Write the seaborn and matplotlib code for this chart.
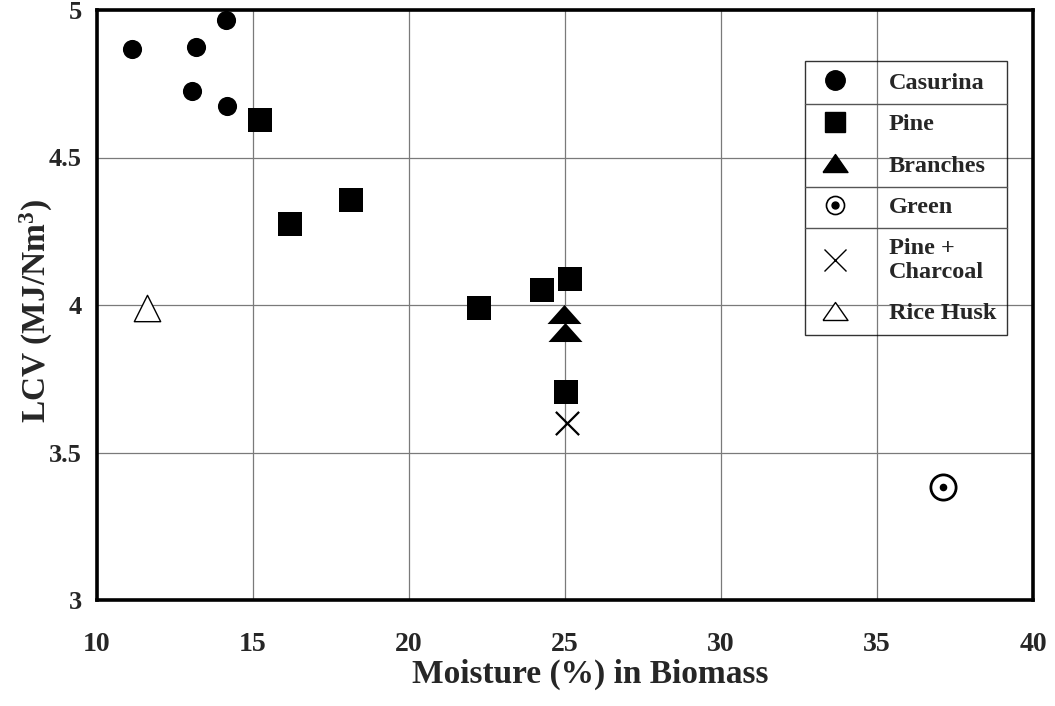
import numpy as np
import pandas as pd
import matplotlib
matplotlib.use("Agg")
import matplotlib.pyplot as plt
import seaborn as sns
from matplotlib.lines import Line2D
from matplotlib.legend_handler import HandlerTuple
from matplotlib.ticker import FormatStrFormatter

# ---- data ----
casurina_x = [11.12, 13.17, 14.13, 13.06, 14.17]
casurina_y = [4.868, 4.876, 4.966, 4.725, 4.675]
pine_x = [15.22, 16.19, 18.14, 22.24, 24.26, 25.16, 25.03]
pine_y = [4.627, 4.275, 4.356, 3.99, 4.05, 4.088, 3.705]
branches_x = [24.97, 25.0]
branches_y = [3.97, 3.908]
green_x = [37.1]
green_y = [3.383]
charcoal_x = [25.06]
charcoal_y = [3.60]
rice_x = [11.6]
rice_y = [3.99]

series_names = ["Casurina", "Pine", "Branches", "Green", "Pine +\nCharcoal", "Rice Husk"]
x_ticks = [10, 15, 20, 25, 30, 35, 40]
y_ticks = [3, 3.5, 4, 4.5, 5]

sns.set_style("white")
plt.rcParams["font.family"] = ["Liberation Serif", "DejaVu Serif"]
plt.rcParams["font.weight"] = "bold"
plt.rcParams["mathtext.fontset"] = "custom"
plt.rcParams["mathtext.rm"] = "Liberation Serif:bold"
plt.rcParams["mathtext.it"] = "Liberation Serif:bold"
plt.rcParams["mathtext.bf"] = "Liberation Serif:bold"

fig, ax = plt.subplots(figsize=(10.55, 7.06), dpi=100)
fig.subplots_adjust(left=97/1055, right=1033/1055, top=1-10/706, bottom=1-600/706)

tri = [(-1, -0.56), (1, -0.56), (0, 0.56), (-1, -0.56)]
tri_leg = [(-1, -0.72), (1, -0.72), (0, 0.72), (-1, -0.72)]

sns.scatterplot(x=casurina_x, y=casurina_y, ax=ax, marker="o", s=190,
                color="black", edgecolor="black", linewidth=0, zorder=3)
sns.scatterplot(x=pine_x, y=pine_y, ax=ax, marker="s", s=275,
                color="black", edgecolor="black", linewidth=0, zorder=3)
sns.scatterplot(x=branches_x, y=branches_y, ax=ax, marker=tri, s=600,
                color="black", edgecolor="black", linewidth=0, zorder=3)
sns.scatterplot(x=green_x, y=green_y, ax=ax, marker="o", s=330,
                facecolor="white", edgecolor="black", linewidth=2.0, zorder=3)
sns.scatterplot(x=green_x, y=green_y, ax=ax, marker="o", s=30,
                color="black", edgecolor="black", linewidth=0, zorder=4)
sns.scatterplot(x=charcoal_x, y=charcoal_y, ax=ax, marker="x", s=280,
                color="black", linewidth=1.6, zorder=3)
sns.scatterplot(x=rice_x, y=rice_y, ax=ax, marker="^", s=360,
                facecolor="white", edgecolor="black", linewidth=1.0, zorder=3)

ax.set_xlim(10, 40)
ax.set_ylim(3, 5)
ax.set_xticks(x_ticks)
ax.set_yticks(y_ticks)
ax.yaxis.set_major_formatter(FormatStrFormatter("%g"))
ax.grid(True, color="#7a7a7a", linewidth=0.9)
ax.set_axisbelow(True)
for sp in ax.spines.values():
    sp.set_visible(True)
    sp.set_color("black")
    sp.set_linewidth(2.6)

ax.tick_params(axis="x", direction="out", length=4, width=0.8, color="#555555",
               pad=19, labelsize=20)
ax.tick_params(axis="y", direction="out", length=5, width=0.8, color="#555555",
               pad=6, labelsize=19)
for lab in ax.get_xticklabels() + ax.get_yticklabels():
    lab.set_fontweight("bold")

ax.set_xlabel("Moisture (%) in Biomass", fontsize=24, fontweight="bold")
ax.set_ylabel(r"LCV (MJ/Nm$^{3}$)", fontsize=24, fontweight="bold")
ax.xaxis.set_label_coords(0.527, -0.100)
ax.yaxis.set_label_coords(-0.045, 0.49)

# ---- legend ----
h_cas = Line2D([], [], linestyle="none", marker="o", markersize=14,
               markerfacecolor="black", markeredgecolor="black")
h_pine = Line2D([], [], linestyle="none", marker="s", markersize=14,
                markerfacecolor="black", markeredgecolor="black")
h_br = Line2D([], [], linestyle="none", marker=tri_leg, markersize=18,
              markerfacecolor="black", markeredgecolor="black")
h_gr1 = Line2D([], [], linestyle="none", marker="o", markersize=13,
               markerfacecolor="white", markeredgecolor="black", markeredgewidth=1.2)
h_gr2 = Line2D([], [], linestyle="none", marker="o", markersize=5,
               markerfacecolor="black", markeredgecolor="black")
h_ch = Line2D([], [], linestyle="none", marker="x", markersize=16,
              markeredgecolor="black", markeredgewidth=1.0)
h_rice = Line2D([], [], linestyle="none", marker=tri_leg, markersize=18,
                markerfacecolor="white", markeredgecolor="black", markeredgewidth=1.0)

handles = [h_cas, h_pine, h_br, (h_gr1, h_gr2), h_ch, h_rice]
leg = ax.legend(handles, series_names,
                handler_map={tuple: HandlerTuple(ndivide=1)},
                loc="upper left", bbox_to_anchor=((805-97)/936, (600-61)/590),
                bbox_transform=ax.transAxes,
                prop={"family": "Liberation Serif", "weight": "bold", "size": 17.5},
                frameon=True, fancybox=False, borderpad=0.45,
                handlelength=1.6, handletextpad=1.4, labelspacing=0.8,
                borderaxespad=0)
leg.get_frame().set_facecolor("none")
leg.get_frame().set_edgecolor("black")
leg.get_frame().set_linewidth(1.0)
leg.set_zorder(5)

# row separators inside the legend
fig.canvas.draw()
renderer = fig.canvas.get_renderer()
fb = leg.get_frame().get_window_extent(renderer)
texts = leg.get_texts()
inv = ax.transAxes.inverted()
for i in [0, 2, 3]:
    b1 = texts[i].get_window_extent(renderer)
    b2 = texts[i + 1].get_window_extent(renderer)
    ymid = (b1.y0 + b2.y1) / 2
    (x0, y0) = inv.transform((fb.x0, ymid))
    (x1, _) = inv.transform((fb.x1, ymid))
    ax.plot([x0, x1], [y0, y0], transform=ax.transAxes, color="#555555",
            linewidth=1.0, zorder=6, clip_on=False)

fig.savefig("out.png", dpi=100)
